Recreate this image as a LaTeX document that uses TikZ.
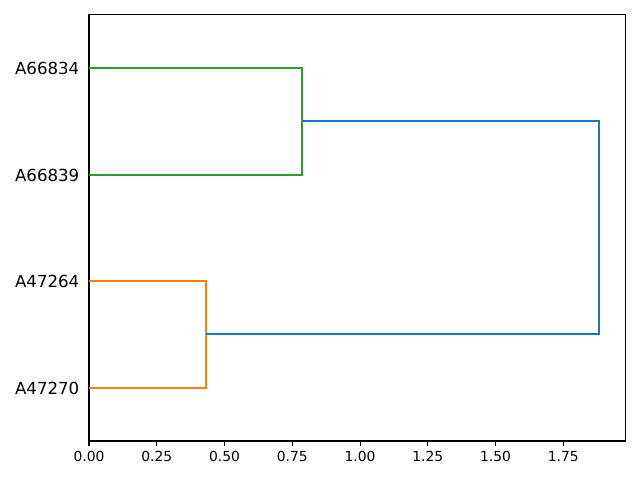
\documentclass[tikz,border=0pt]{standalone}
\usepackage{fontspec}
\setmainfont{DejaVu Sans}
\definecolor{TabBlue}{HTML}{1F77B4}
\definecolor{TabOrange}{HTML}{FF7F0E}
\definecolor{TabGreen}{HTML}{2CA02C}

\begin{document}
\begin{tikzpicture}[
    x=0.01in, y=-0.01in,
    link/.style={line width=1.5pt},
    frame/.style={draw=black, line width=0.8pt},
    tickmark/.style={black, line width=0.8pt},
    ticklabel/.style={font=\fontsize{10}{12}\selectfont, anchor=north, inner sep=0pt},
    leaflabel/.style={font=\fontsize{12}{14}\selectfont, anchor=east, inner sep=0pt},
]
\fill[white] (0,0) rectangle (640,480);
\useasboundingbox (0,0) rectangle (640,480);

% axes in data units: x = distance, y = leaf slots (0..40)
\begin{scope}[shift={(89,441)}, x=2.709in, y=0.1065in]
  \draw[frame] (0,0) rectangle (1.9786,40);

  % leaves and merge points
  \coordinate (l1) at (0,35);
  \coordinate (l2) at (0,25);
  \coordinate (l3) at (0,15);
  \coordinate (l4) at (0,5);
  \coordinate (g)    at (0.7863,30);
  \coordinate (o)    at (0.4319,10);
  \coordinate (root) at (1.8826,20);

  % links
  \draw[link, TabGreen]  (l1) -| (g) |- (l2);
  \draw[link, TabOrange] (l3) -| (o) |- (l4);
  \draw[link, TabBlue]   (g) -| (root) |- (o);

  % leaf labels
  \node[leaflabel, xshift=-6.8pt, yshift=-0.5pt] (a66834) at (l1) {A66834};
  \node[leaflabel, xshift=-6.8pt, yshift=-0.5pt] (a66839) at (l2) {A66839};
  \node[leaflabel, xshift=-6.8pt, yshift=-0.5pt] (a47264) at (l3) {A47264};
  \node[leaflabel, xshift=-6.8pt, yshift=-0.5pt] (a47270) at (l4) {A47270};

  % x ticks
  \foreach \v [count=\i] in {0.00,0.25,0.50,0.75,1.00,1.25,1.50,1.75} {
    \coordinate (t\i) at (\v,0);
    \draw[tickmark] (t\i) -- ++(0pt,-3.5pt);
    \node[ticklabel, yshift=-7pt] (tl\i) at (t\i) {\v};
  }
\end{scope}
\end{tikzpicture}
\end{document}
